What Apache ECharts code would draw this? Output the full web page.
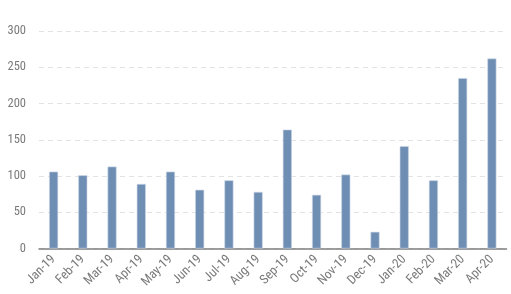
<!DOCTYPE html>
<html>
<head>
<meta charset="utf-8">
<script src="https://cdn.jsdelivr.net/npm/echarts@6/dist/echarts.min.js"></script>
<style>html,body{margin:0;padding:0;background:#fff}#c{width:511px;height:294px}</style>
</head>
<body>
<div id="c"></div>
<script>
const categories = ['Jan-19','Feb-19','Mar-19','Apr-19','May-19','Jun-19','Jul-19','Aug-19','Sep-19','Oct-19','Nov-19','Dec-19','Jan-20','Feb-20','Mar-20','Apr-20'];
const values = [106, 101, 113, 89, 106, 81, 94, 78, 164, 74, 102, 23, 141, 94, 235, 262];
const yTicks = [0, 50, 100, 150, 200, 250, 300];

const font = '"Liberation Sans Narrow", "Arial Narrow", "Roboto Condensed", sans-serif';
const chart = echarts.init(document.getElementById('c'), null, {renderer: 'canvas'});
chart.setOption({
  animation: false,
  grid: {left: 39, right: 4.5, top: 31, bottom: 45.5},
  xAxis: {
    type: 'category',
    data: categories,
    axisLine: {lineStyle: {color: '#7f7f7f', width: 1.5}},
    axisTick: {show: false},
    axisLabel: {rotate: 45, color: '#7a7a7a', fontSize: 13, fontFamily: font, margin: 9, interval: 0}
  },
  yAxis: {
    type: 'value',
    min: yTicks[0],
    max: yTicks[yTicks.length - 1],
    interval: 50,
    axisLine: {show: false},
    axisTick: {show: false},
    axisLabel: {color: '#7a7a7a', fontSize: 12.5, fontFamily: font, margin: 13},
    splitLine: {lineStyle: {color: '#e3e3e3', type: [5, 4]}}
  },
  series: [{
    type: 'bar',
    data: values,
    barWidth: 9,
    itemStyle: {color: '#6f8eb4', borderColor: '#c9d5e5', borderWidth: 0.6}
  }]
});
</script>
</body>
</html>
